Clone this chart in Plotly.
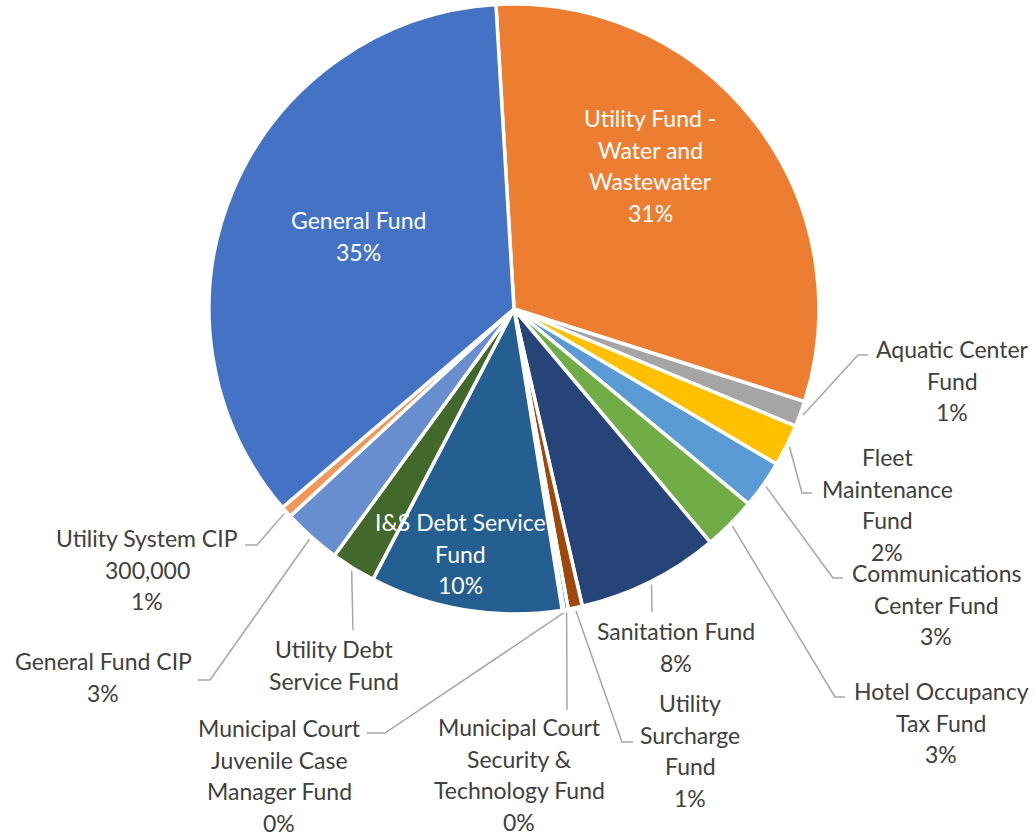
import math
import plotly.graph_objects as go

# ---------------- data ----------------
funds = [
    "Utility Fund - Water and Wastewater",
    "Aquatic Center Fund",
    "Fleet Maintenance Fund",
    "Communications Center Fund",
    "Hotel Occupancy Tax Fund",
    "Sanitation Fund",
    "Utility Surcharge Fund",
    "Municipal Court Security & Technology Fund",
    "Municipal Court Juvenile Case Manager Fund",
    "I&S Debt Service Fund",
    "Utility Debt Service Fund",
    "General Fund CIP",
    "Utility System CIP",
    "General Fund",
]
amounts = [15150000, 670000, 1090000, 1250000, 1390000, 3700000, 370000,
           110000, 45000, 5000000, 1160000, 1520000, 300000, 17350000]
colors = ["#ED7D31", "#A5A5A5", "#FFC000", "#5B9BD5", "#70AD47", "#264478",
          "#9E480E", "#636363", "#997300", "#255E91", "#43682B", "#698ED0",
          "#F1975A", "#4472C4"]
label_lines = [
    ["Utility Fund -", "Water and", "Wastewater"],
    ["Aquatic Center", "Fund"],
    ["Fleet", "Maintenance", "Fund"],
    ["Communications", "Center Fund"],
    ["Hotel Occupancy", "Tax Fund"],
    ["Sanitation Fund"],
    ["Utility", "Surcharge", "Fund"],
    ["Municipal Court", "Security &", "Technology Fund"],
    ["Municipal Court", "Juvenile Case", "Manager Fund"],
    ["I&S Debt Service", "Fund"],
    ["Utility Debt", "Service Fund"],
    ["General Fund CIP"],
    ["Utility System CIP"],
    ["General Fund"],
]
show_value = [False] * 12 + [True, False]
show_pct = [True] * 10 + [False, True, True, True]

# ---------------- layout constants ----------------
W, H = 1035, 832
CX, CY, R = 514, 309, 305
ROT = -3.4
LINE_H = 31.5
FONT = "Lato, 'Open Sans', sans-serif"
FS = 23

# label placement: (center x, first line y, inside?)
label_pos = [
    (650, 118, True), (952, 349, False), (887, 457, False), (936, 573, False),
    (941, 691, False), (676, 631, False), (690, 703, False), (519, 727, False),
    (279, 728, False), (460, 522, True), (334, 649, False), (103, 661, False),
    (147, 538, False), (358, 220, True),
]
# leader lines: (elbow, end) in px, None for inside labels
leaders = [
    None, ((858, 355), (868, 355)), ((802, 493), (812, 493)),
    ((833, 578), (843, 578)), ((835, 697), (845, 697)),
    ((652, 612), (652, 612)), ((622, 742), (633, 742)),
    ((567, 710), (567, 710)), ((385, 733), (367, 733)), None,
    ((353, 630), (353, 630)), ((210, 680), (198, 680)),
    ((257, 545), (245, 545)), None,
]


def px(x):
    return x / W


def py(y):
    return 1 - y / H


fig = go.Figure(go.Pie(
    labels=funds, values=amounts, sort=False, direction="clockwise",
    rotation=ROT, textinfo="none", hoverinfo="label+value+percent",
    marker=dict(colors=colors, line=dict(color="white", width=3.5)),
    domain=dict(x=[px(CX - R), px(CX + R)], y=[py(CY + R), py(CY - R)]),
    showlegend=False,
))

total = sum(amounts)
cum = 0.0
annotations = []
shapes = []
for i, v in enumerate(amounts):
    mid = ROT + (cum + v / 2) / total * 360
    cum += v
    pct = f"{round(v / total * 100):.0f}%"
    lines = list(label_lines[i])
    if show_value[i]:
        lines.append(f"{v:,}")
    if show_pct[i]:
        lines.append(pct)
    x0, y0, inside = label_pos[i]
    col = "white" if inside else "#404040"
    for k, t in enumerate(lines):
        annotations.append(dict(
            x=px(x0), y=py(y0 + k * LINE_H), xref="paper", yref="paper",
            text=t, showarrow=False, xanchor="center", yanchor="middle",
            font=dict(family=FONT, size=FS, color=col)))
    if leaders[i] is not None:
        a = math.radians(mid)
        sx = CX + (R + 3) * math.sin(a)
        sy = CY - (R + 3) * math.cos(a)
        (ex, ey), (fx, fy) = leaders[i]
        path = f"M {px(sx)} {py(sy)} L {px(ex)} {py(ey)} L {px(fx)} {py(fy)}"
        shapes.append(dict(type="path", path=path, xref="paper", yref="paper",
                           line=dict(color="#A6A6A6", width=1.5)))

fig.update_layout(
    width=W, height=H, margin=dict(l=0, r=0, t=0, b=0),
    paper_bgcolor="white", plot_bgcolor="white",
    annotations=annotations, shapes=shapes,
)

fig.write_html("out.html", config={"displayModeBar": False},
               post_script="document.body.style.margin='0';")
